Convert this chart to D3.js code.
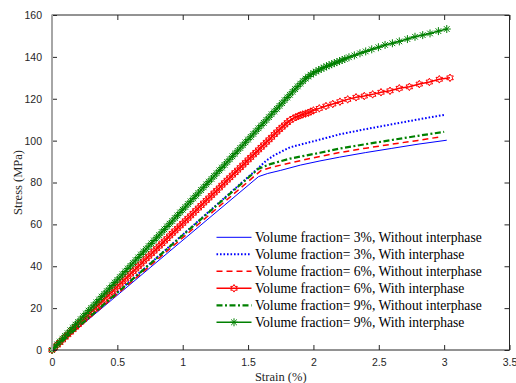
<!DOCTYPE html>
<html>
<head>
<meta charset="utf-8">
<script src="https://cdn.jsdelivr.net/npm/d3@7"></script>
<style>
  html, body { margin: 0; padding: 0; background: #fff; }
  svg { display: block; }
</style>
</head>
<body>
<div id="chart"></div>
<script>
// values: [strain %, stress MPa]
const vf3Without = [[0, 0], [1.58, 82.8], [1.65, 84.3], [1.75, 85.8], [1.9, 88.3], [2.05, 90.3], [2.2, 92.1],
  [2.4, 94.3], [2.6, 96.3], [2.8, 98.3], [3.02, 100.2]];
const vf3With = [[0, 0], [1.58, 87.0], [1.64, 90.5], [1.7, 93.0], [1.82, 96.8], [2.05, 100.5], [2.2, 103.0],
  [2.4, 105.5], [2.6, 107.8], [2.8, 110.1], [3.0, 112.3]];
const vf6Without = [[0, 0], [1.6, 85.8], [1.7, 87.6], [1.82, 89.3], [2.0, 91.8], [2.2, 94.3], [2.4, 96.4],
  [2.6, 98.3], [2.8, 100.1], [2.98, 101.9]];
const vf6With = [[0, 0], [0.02, 1.2], [0.04, 2.4], [0.06, 3.6], [0.08, 4.8], [0.1, 6.1], [0.12, 7.3],
  [0.14, 8.5], [0.16, 9.7], [0.18, 10.9], [0.2, 12.1], [0.22, 13.3], [0.24, 14.5], [0.26, 15.7],
  [0.28, 16.9], [0.3, 18.2], [0.32, 19.4], [0.34, 20.6], [0.36, 21.8], [0.38, 23.0], [0.4, 24.2],
  [0.42, 25.4], [0.44, 26.6], [0.46, 27.8], [0.48, 29.0], [0.5, 30.3], [0.52, 31.5], [0.54, 32.7],
  [0.56, 33.9], [0.58, 35.1], [0.6, 36.3], [0.62, 37.5], [0.64, 38.7], [0.66, 39.9], [0.68, 41.1],
  [0.7, 42.4], [0.72, 43.6], [0.74, 44.8], [0.76, 46.0], [0.78, 47.2], [0.8, 48.4], [0.82, 49.6],
  [0.84, 50.8], [0.86, 52.0], [0.88, 53.2], [0.9, 54.5], [0.92, 55.7], [0.94, 56.9], [0.96, 58.1],
  [0.98, 59.3], [1.0, 60.5], [1.02, 61.7], [1.04, 62.9], [1.06, 64.1], [1.08, 65.3], [1.1, 66.6],
  [1.12, 67.8], [1.14, 69.0], [1.16, 70.2], [1.18, 71.4], [1.2, 72.6], [1.22, 73.8], [1.24, 75.0],
  [1.26, 76.2], [1.28, 77.4], [1.3, 78.7], [1.32, 79.9], [1.34, 81.1], [1.36, 82.3], [1.38, 83.5],
  [1.4, 84.7], [1.42, 85.9], [1.44, 87.1], [1.46, 88.3], [1.48, 89.5], [1.5, 90.8], [1.52, 92.0],
  [1.54, 93.2], [1.56, 94.4], [1.58, 95.6], [1.6, 96.8], [1.62, 98.0], [1.64, 99.2], [1.66, 100.4],
  [1.68, 101.6], [1.7, 102.9], [1.72, 104.1], [1.74, 105.3], [1.76, 106.4], [1.78, 107.5], [1.8, 108.6],
  [1.82, 109.7], [1.846, 110.6], [1.865, 111.2], [1.885, 111.7], [1.9, 112.1], [1.918, 112.5],
  [1.94, 112.9], [1.961, 113.3], [1.98, 113.9], [2.0, 114.4], [2.045, 115.4], [2.096, 116.5],
  [2.148, 117.5], [2.203, 118.6], [2.262, 119.7], [2.326, 120.7], [2.389, 121.3], [2.453, 122.1],
  [2.517, 123.1], [2.586, 123.8], [2.657, 125.0], [2.734, 125.7], [2.81, 127.0], [2.887, 128.0],
  [2.963, 129.3], [3.045, 130.0]];
const vf9Without = [[0, 0], [1.58, 86.6], [1.67, 88.8], [1.82, 91.4], [2.05, 94.2], [2.2, 96.2], [2.4, 98.3],
  [2.6, 100.3], [2.8, 102.3], [3.0, 104.2]];
const vf9With = [[0, 0], [0.02, 1.3], [0.04, 2.7], [0.06, 4.0], [0.08, 5.4], [0.1, 6.7], [0.12, 8.0],
  [0.14, 9.4], [0.16, 10.7], [0.18, 12.1], [0.2, 13.4], [0.22, 14.7], [0.24, 16.1], [0.26, 17.4],
  [0.28, 18.8], [0.3, 20.1], [0.32, 21.4], [0.34, 22.8], [0.36, 24.1], [0.38, 25.5], [0.4, 26.8],
  [0.42, 28.1], [0.44, 29.5], [0.46, 30.8], [0.48, 32.2], [0.5, 33.5], [0.52, 34.8], [0.54, 36.2],
  [0.56, 37.5], [0.58, 38.9], [0.6, 40.2], [0.62, 41.5], [0.64, 42.9], [0.66, 44.2], [0.68, 45.6],
  [0.7, 46.9], [0.72, 48.2], [0.74, 49.6], [0.76, 50.9], [0.78, 52.3], [0.8, 53.6], [0.82, 54.9],
  [0.84, 56.3], [0.86, 57.6], [0.88, 59.0], [0.9, 60.3], [0.92, 61.6], [0.94, 63.0], [0.96, 64.3],
  [0.98, 65.7], [1.0, 67.0], [1.02, 68.3], [1.04, 69.7], [1.06, 71.0], [1.08, 72.4], [1.1, 73.7],
  [1.12, 75.0], [1.14, 76.4], [1.16, 77.7], [1.18, 79.1], [1.2, 80.4], [1.22, 81.7], [1.24, 83.1],
  [1.26, 84.4], [1.28, 85.8], [1.3, 87.1], [1.32, 88.4], [1.34, 89.8], [1.36, 91.1], [1.38, 92.5],
  [1.4, 93.8], [1.42, 95.1], [1.44, 96.5], [1.46, 97.8], [1.48, 99.2], [1.5, 100.5], [1.52, 101.8],
  [1.54, 103.2], [1.56, 104.5], [1.58, 105.9], [1.6, 107.2], [1.62, 108.5], [1.64, 109.9], [1.66, 111.2],
  [1.68, 112.6], [1.7, 113.9], [1.72, 115.2], [1.74, 116.6], [1.76, 117.9], [1.78, 119.3], [1.8, 120.6],
  [1.82, 121.9], [1.84, 123.3], [1.86, 124.6], [1.88, 125.9], [1.9, 127.2], [1.92, 128.4], [1.94, 129.6],
  [1.96, 130.6], [1.98, 131.5], [2.0, 132.3], [2.02, 133.0], [2.04, 133.7], [2.06, 134.3], [2.08, 134.9],
  [2.1, 135.5], [2.12, 136.0], [2.14, 136.5], [2.16, 137.0], [2.18, 137.5], [2.2, 138.0], [2.22, 138.5],
  [2.24, 139.0], [2.272, 139.8], [2.313, 140.7], [2.356, 141.7], [2.4, 142.6], [2.446, 143.6],
  [2.497, 144.6], [2.548, 145.7], [2.604, 146.5], [2.657, 147.4], [2.719, 148.5], [2.777, 149.6],
  [2.836, 150.4], [2.892, 151.2], [2.956, 152.3], [3.02, 153.3]];

const legendLabels = [
  "Volume fraction= 3%, Without interphase",
  "Volume fraction= 3%, With interphase",
  "Volume fraction= 6%, Without interphase",
  "Volume fraction= 6%, With interphase",
  "Volume fraction= 9%, Without interphase",
  "Volume fraction= 9%, With interphase"
];
const xTicks = [0, 0.5, 1, 1.5, 2, 2.5, 3, 3.5];
const yTicks = [0, 20, 40, 60, 80, 100, 120, 140, 160];

const width = 516, height = 383;
const margin = {top: 15, right: 6.5, bottom: 33, left: 52};
const axisColor = '#262626';

const series = [
  {data: vf3Without, color: '#0000ff', width: 1, dash: null, marker: null},
  {data: vf3With, color: '#0000ff', width: 2, dash: '1.6,1.9', marker: null},
  {data: vf6Without, color: '#ff0000', width: 1.5, dash: '6,4', marker: null},
  {data: vf6With, color: '#ff0000', width: 1.5, dash: null, marker: 'hexagram'},
  {data: vf9Without, color: '#008000', width: 2.2, dash: '6,2.5,2,2.5', marker: null},
  {data: vf9With, color: '#008000', width: 1.5, dash: null, marker: 'asterisk'}
];

const svg = d3.select('#chart')
  .append('svg')
  .attr('width', width)
  .attr('height', height);

const x = d3.scaleLinear().domain([0, 3.5]).range([margin.left, width - margin.right]);
const y = d3.scaleLinear().domain([0, 160]).range([height - margin.bottom, margin.top]);

function hexagram(r) {
  const pts = [];
  for (let i = 0; i < 12; i++) {
    const a = Math.PI / 2 + i * Math.PI / 6;
    const rr = i % 2 === 0 ? r : r / Math.sqrt(3);
    pts.push([rr * Math.cos(a), -rr * Math.sin(a)]);
  }
  return 'M' + pts.map(p => p[0].toFixed(2) + ',' + p[1].toFixed(2)).join('L') + 'Z';
}

function asterisk(r) {
  const d = r * Math.SQRT1_2;
  return `M${-r},0L${r},0M0,${-r}L0,${r}M${-d},${-d}L${d},${d}M${-d},${d}L${d},${-d}`;
}

function drawMarkers(g, pts, s) {
  const path = s.marker === 'hexagram' ? hexagram(3.8) : asterisk(4);
  g.selectAll('path.mk')
    .data(pts)
    .enter()
    .append('path')
    .attr('class', 'mk')
    .attr('transform', d => `translate(${x(d[0])},${y(d[1])})`)
    .attr('d', path)
    .attr('fill', 'none')
    .attr('stroke', s.color)
    .attr('stroke-width', 1);
}

const line = d3.line()
  .x(d => x(d[0]))
  .y(d => y(d[1]));

const plot = svg.append('g');

series.forEach(s => {
  const g = plot.append('g');
  g.append('path')
    .datum(s.data)
    .attr('d', line)
    .attr('fill', 'none')
    .attr('stroke', s.color)
    .attr('stroke-width', s.width)
    .attr('stroke-dasharray', s.dash);
  if (s.marker) drawMarkers(g, s.data, s);
});

const axes = svg.append('g');

// frame: top and right edges
axes.append('path')
  .attr('d', `M${x(0)},${y(160)}H${x(3.5)}V${y(0)}`)
  .attr('fill', 'none')
  .attr('stroke', axisColor)
  .attr('stroke-width', 1);

const bottomAxis = axes.append('g')
  .attr('transform', `translate(0,${y(0)})`)
  .call(d3.axisBottom(x).tickValues(xTicks).tickSize(-5).tickPadding(9).tickFormat(d3.format('')));
const topAxis = axes.append('g')
  .attr('transform', `translate(0,${y(160)})`)
  .call(d3.axisTop(x).tickValues(xTicks).tickSize(-5).tickFormat(''));
const leftAxis = axes.append('g')
  .attr('transform', `translate(${x(0)},0)`)
  .call(d3.axisLeft(y).tickValues(yTicks).tickSize(-5).tickPadding(10));
const rightAxis = axes.append('g')
  .attr('transform', `translate(${x(3.5)},0)`)
  .call(d3.axisRight(y).tickValues(yTicks).tickSize(-5).tickFormat(''));

[bottomAxis, topAxis, leftAxis, rightAxis].forEach(a => {
  a.select('.domain').remove();
  a.selectAll('.tick line').attr('stroke', axisColor);
  a.selectAll('.tick text')
    .attr('fill', axisColor)
    .style('font-family', '"Liberation Sans", Arial, sans-serif')
    .style('font-size', '10.5px');
});

axes.append('line')
  .attr('x1', x(0)).attr('x2', x(3.5))
  .attr('y1', y(0)).attr('y2', y(0))
  .attr('stroke', axisColor)
  .attr('stroke-width', 1);

axes.append('line')
  .attr('x1', x(0)).attr('x2', x(0))
  .attr('y1', y(0) + 0.5).attr('y2', y(160) - 0.5)
  .attr('stroke', '#a6a6a6')
  .attr('stroke-width', 2);

// axis titles
svg.append('text')
  .attr('x', (x(0) + x(3.5)) / 2)
  .attr('y', 380.5)
  .attr('text-anchor', 'middle')
  .style('font-family', '"Liberation Serif", "Times New Roman", serif')
  .style('font-size', '12.5px')
  .attr('fill', axisColor)
  .text('Strain (%)');

svg.append('text')
  .attr('transform', `translate(21.5,${(y(0) + y(160)) / 2}) rotate(-90)`)
  .attr('text-anchor', 'middle')
  .style('font-family', '"Liberation Serif", "Times New Roman", serif')
  .style('font-size', '12.5px')
  .attr('fill', axisColor)
  .text('Stress (MPa)');

// legend
const legend = svg.append('g').attr('transform', 'translate(216.5,237.3)');
series.forEach((s, i) => {
  const row = legend.append('g').attr('transform', `translate(0,${i * 17})`);
  row.append('line')
    .attr('x1', 0).attr('x2', 35)
    .attr('y1', 0).attr('y2', 0)
    .attr('stroke', s.color)
    .attr('stroke-width', s.width)
    .attr('stroke-dasharray', s.dash);
  if (s.marker) {
    row.append('path')
      .attr('transform', 'translate(17.5,0)')
      .attr('d', s.marker === 'hexagram' ? hexagram(3.8) : asterisk(4))
      .attr('fill', 'none')
      .attr('stroke', s.color)
      .attr('stroke-width', 1);
  }
  row.append('text')
    .attr('x', 38.5)
    .attr('y', 4.5)
    .style('font-family', '"Liberation Serif", "Times New Roman", serif')
    .style('font-size', '13.6px')
    .attr('fill', '#000')
    .text(legendLabels[i]);
});
</script>
</body>
</html>
